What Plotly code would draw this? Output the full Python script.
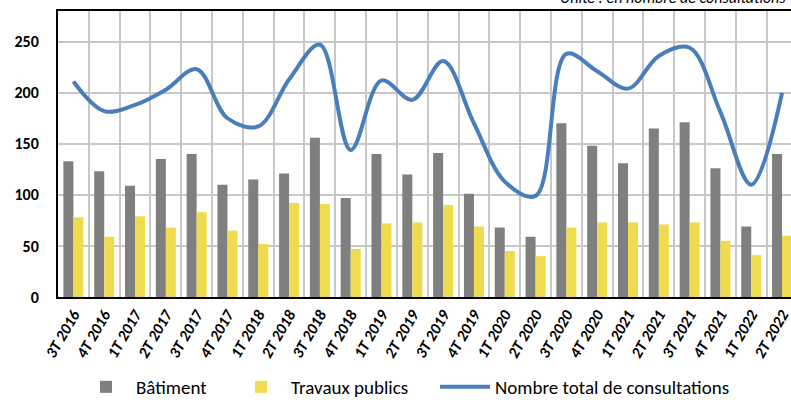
import plotly.graph_objects as go

categories = ["3T 2016", "4T 2016", "1T 2017", "2T 2017", "3T 2017", "4T 2017",
              "1T 2018", "2T 2018", "3T 2018", "4T 2018", "1T 2019", "2T 2019",
              "3T 2019", "4T 2019", "1T 2020", "2T 2020", "3T 2020", "4T 2020",
              "1T 2021", "2T 2021", "3T 2021", "4T 2021", "1T 2022", "2T 2022"]
batiment = [133, 123, 109, 135, 140, 110, 115, 121, 156, 97, 140, 120,
            141, 101, 68, 59, 170, 148, 131, 165, 171, 126, 69, 140]
travaux = [78, 59, 79, 68, 83, 65, 52, 92, 91, 47, 72, 73,
           90, 69, 45, 40, 68, 73, 73, 71, 73, 55, 41, 60]
total = [211, 182, 188, 203, 223, 175, 167, 213, 247, 144, 212, 193,
         231, 170, 113, 99, 238, 221, 204, 236, 244, 181, 110, 200]
y_ticks = [0, 50, 100, 150, 200, 250]

FONT = "Carlito, Calibri, Lato, sans-serif"
W, H = 791, 420   # page window is 400 tall; the extra strip below is never shown

fig = go.Figure()
fig.add_trace(go.Bar(x=categories, y=batiment, name="Bâtiment", legend="legend",
                     marker=dict(color="#7f7f7f", line=dict(width=0))))
fig.add_trace(go.Bar(x=categories, y=travaux, name="Travaux publics", legend="legend2",
                     marker=dict(color="#efdb4f", line=dict(width=0))))
fig.add_trace(go.Scatter(x=categories, y=total, name="Nombre total de consultations",
                         legend="legend3", mode="lines",
                         line=dict(color="#4a7ebb", width=4, shape="spline", smoothing=1.0)))


def leg(text_left_px):
    return dict(orientation="h", xref="container", yref="container",
                x=(text_left_px - 62) / W, xanchor="left",
                y=(H - 387) / H, yanchor="middle",
                font=dict(family=FONT, size=19, color="black"),
                itemwidth=50, bgcolor="rgba(0,0,0,0)")


fig.update_layout(
    width=W, height=H,
    margin=dict(l=58, r=0, t=11, b=H - 297, autoexpand=False),
    paper_bgcolor="white", plot_bgcolor="white",
    barmode="group", bargap=0.35, bargroupgap=0,
    font=dict(family=FONT, color="black"),
    showlegend=True,
    legend=leg(138), legend2=leg(293), legend3=leg(497),
    annotations=[dict(text="<i>Unité : en nombre de consultations</i>",
                      xref="paper", yref="paper", x=1, y=1,
                      xanchor="right", yanchor="bottom", yshift=2, xshift=-3,
                      showarrow=False, font=dict(family=FONT, size=16, color="black"))],
)

fig.update_xaxes(
    type="category", range=[-0.5, 23.29], automargin=False,
    tickson="boundaries", showgrid=True, gridcolor="#c8c8c8", gridwidth=1.5,
    showline=True, linecolor="black", linewidth=2, mirror=True,
    ticks="", tickangle=-60,
    tickfont=dict(family=FONT, size=16, color="black", weight="bold", style="italic"),
)
fig.update_yaxes(
    range=[0, 280], tickvals=y_ticks, automargin=False,
    showgrid=True, gridcolor="#c8c8c8", gridwidth=1.5,
    showline=True, linecolor="black", linewidth=2,
    ticks="", ticklabelstandoff=14, zeroline=False,
    tickfont=dict(family=FONT, size=16, color="black", weight="bold"),
)

fig.write_html("out.html", config={"displayModeBar": False},
               post_script="document.body.style.margin='0';document.body.style.overflow='hidden';"
                           "document.documentElement.style.overflow='hidden';")
